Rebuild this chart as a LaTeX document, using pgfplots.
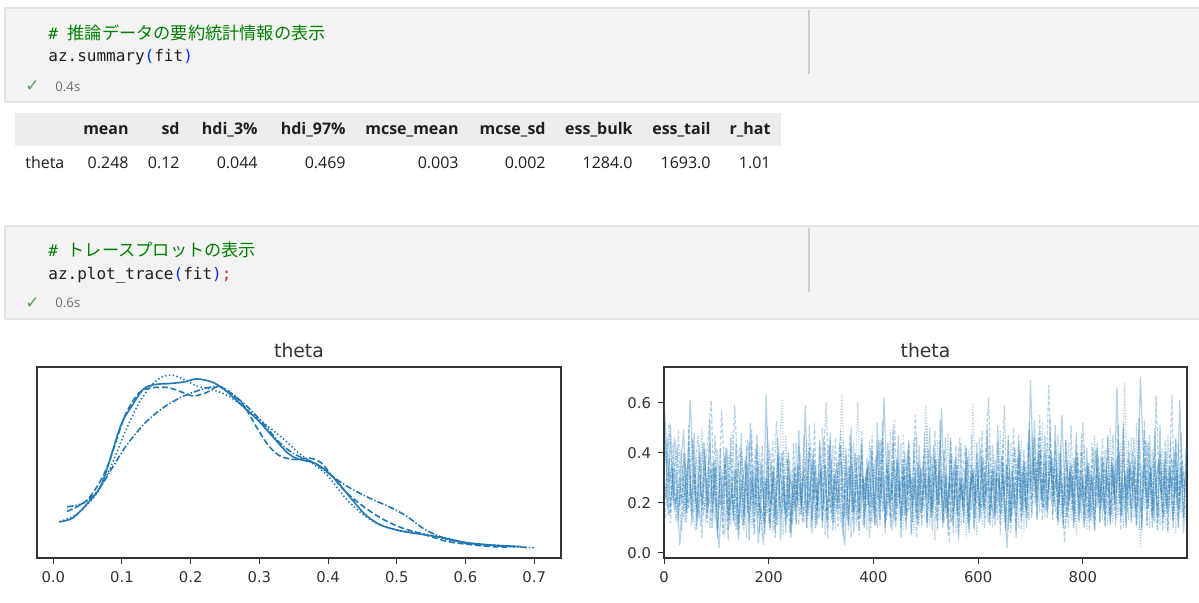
\documentclass[border=0pt]{standalone}
\usepackage{fontspec}
\usepackage{pgfplots}
\usepackage{pgfplotstable}
\pgfplotsset{compat=1.18}
\setmainfont{Open Sans}
\newfontfamily\codefont{DejaVu Sans Mono}
\newfontfamily\cjk{Noto Sans CJK JP}
\newfontfamily\plotfont{DejaVu Sans}
\definecolor{C0}{HTML}{1F77B4}
\definecolor{cellbg}{HTML}{F3F3F3}
\definecolor{cellborder}{HTML}{E2E2E2}
\definecolor{cmtgreen}{HTML}{008000}
\definecolor{codefg}{HTML}{1F1F1F}
\definecolor{brblue}{HTML}{0431FA}
\definecolor{semired}{HTML}{CD3131}
\definecolor{timegray}{HTML}{6E6E6E}
\definecolor{checkgreen}{HTML}{5A9E5A}
\definecolor{hdrbg}{HTML}{EDEDED}
\definecolor{tabfg}{HTML}{1F1F1F}
\definecolor{axgray}{HTML}{333333}

% density estimates, one table per chain
\pgfplotstableread{
x y
0.009 0.54
0.028 0.61
0.050 0.90
0.071 1.29
0.098 2.39
0.114 2.77
0.131 3.10
0.147 3.19
0.168 3.21
0.190 3.24
0.209 3.30
0.233 3.23
0.255 3.03
0.276 2.77
0.298 2.50
0.319 2.19
0.341 1.87
0.357 1.75
0.379 1.68
0.395 1.55
0.411 1.35
0.433 1.00
0.454 0.68
0.476 0.48
0.503 0.37
0.530 0.31
0.568 0.23
0.600 0.14
0.638 0.09
0.681 0.06
}\kdeA
\pgfplotstableread{
x y
0.020 0.74
0.050 0.97
0.077 1.55
0.104 2.58
0.125 3.03
0.144 3.13
0.168 3.13
0.190 3.03
0.203 2.97
0.222 3.03
0.239 3.15
0.255 3.06
0.276 2.81
0.298 2.32
0.314 2.00
0.330 1.81
0.352 1.74
0.373 1.77
0.390 1.68
0.406 1.42
0.427 1.10
0.454 0.81
0.481 0.58
0.508 0.42
0.541 0.29
0.573 0.16
0.606 0.10
0.638 0.06
0.665 0.05
}\kdeB
\pgfplotstableread{
x y
0.009 0.54
0.033 0.68
0.060 1.03
0.082 1.55
0.104 2.26
0.125 2.84
0.144 3.19
0.160 3.35
0.174 3.37
0.190 3.29
0.209 3.16
0.230 3.10
0.255 2.97
0.282 2.71
0.309 2.42
0.336 2.13
0.357 1.87
0.379 1.65
0.400 1.42
0.427 0.97
0.454 0.65
0.481 0.45
0.514 0.35
0.546 0.29
0.579 0.18
0.611 0.12
0.649 0.08
0.676 0.06
}\kdeC
\pgfplotstableread{
x y
0.020 0.83
0.044 0.90
0.066 1.16
0.087 1.61
0.109 2.06
0.136 2.48
0.163 2.77
0.190 2.97
0.217 3.10
0.239 3.16
0.255 3.06
0.282 2.77
0.309 2.39
0.330 2.06
0.352 1.84
0.379 1.68
0.400 1.48
0.427 1.23
0.460 1.00
0.492 0.81
0.514 0.65
0.541 0.39
0.568 0.23
0.600 0.13
0.638 0.08
0.700 0.04
}\kdeD

% trace values (draws 0,5,10,...), one column per chain
\pgfplotstableread{
a b c d
0.62 0.31 0.18 0.44
0.41 0.22 0.27 0.35
0.29 0.15 0.38 0.52
0.35 0.27 0.21 0.30
0.18 0.33 0.46 0.24
0.24 0.41 0.30 0.13
0.03 0.28 0.19 0.22
0.14 0.20 0.35 0.31
0.26 0.37 0.12 0.40
0.33 0.16 0.25 0.19
0.61 0.24 0.31 0.27
0.38 0.45 0.17 0.12
0.22 0.30 0.09 0.34
0.15 0.19 0.28 0.47
0.27 0.12 0.40 0.29
0.44 0.25 0.23 0.16
0.31 0.36 0.14 0.21
0.19 0.48 0.26 0.38
0.25 0.61 0.33 0.10
0.36 0.29 0.20 0.26
0.12 0.18 0.42 0.33
0.02 0.23 0.29 0.18
0.21 0.57 0.16 0.24
0.30 0.34 0.08 0.39
0.42 0.21 0.22 0.28
0.17 0.13 0.36 0.15
0.26 0.27 0.48 0.23
0.33 0.59 0.25 0.11
0.09 0.38 0.18 0.30
0.20 0.24 0.31 0.42
0.28 0.11 0.39 0.20
0.37 0.26 0.14 0.27
0.16 0.35 0.24 0.45
0.52 0.18 0.30 0.33
0.23 0.29 0.11 0.19
0.31 0.42 0.21 0.26
0.04 0.22 0.35 0.14
0.18 0.15 0.27 0.36
0.13 0.03 0.20 0.22
0.63 0.30 0.16 0.29
0.27 0.21 0.44 0.12
0.19 0.36 0.28 0.24
0.34 0.14 0.09 0.31
0.11 0.25 0.23 0.53
0.25 0.40 0.32 0.20
0.40 0.27 0.61 0.16
0.22 0.17 0.26 0.27
0.14 0.31 0.19 0.38
0.30 0.08 0.37 0.25
0.26 0.23 0.15 0.11
0.17 0.35 0.28 0.32
0.35 0.19 0.21 0.22
0.21 0.28 0.40 0.15
0.29 0.12 0.13 0.29
0.59 0.26 0.25 0.36
0.15 0.33 0.31 0.18
0.24 0.44 0.10 0.27
0.38 0.20 0.24 0.41
0.10 0.27 0.35 0.13
0.27 0.15 0.19 0.25
0.32 0.22 0.29 0.34
0.20 0.39 0.46 0.21
0.26 0.60 0.17 0.14
0.43 0.25 0.23 0.28
0.16 0.13 0.33 0.37
0.28 0.31 0.12 0.19
0.35 0.18 0.27 0.25
0.22 0.26 0.38 0.44
0.12 0.34 0.63 0.30
0.03 0.21 0.24 0.16
0.24 0.29 0.14 0.23
0.31 0.47 0.20 0.35
0.18 0.16 0.32 0.12
0.40 0.24 0.26 0.27
0.27 0.13 0.60 0.39
0.14 0.35 0.21 0.22
0.30 0.22 0.11 0.31
0.21 0.30 0.28 0.17
0.36 0.19 0.35 0.26
0.25 0.42 0.18 0.10
0.17 0.27 0.24 0.33
0.29 0.11 0.39 0.28
0.45 0.33 0.16 0.21
0.22 0.24 0.30 0.45
0.62 0.18 0.22 0.26
0.34 0.36 0.13 0.15
0.19 0.25 0.41 0.32
0.27 0.09 0.27 0.24
0.13 0.53 0.20 0.37
0.38 0.28 0.34 0.18
0.24 0.20 0.26 0.29
0.30 0.37 0.15 0.14
0.15 0.23 0.31 0.40
0.41 0.15 0.23 0.23
0.26 0.31 0.38 0.31
0.20 0.26 0.12 0.19
0.33 0.55 0.28 0.27
0.11 0.22 0.19 0.36
0.28 0.34 0.33 0.15
0.36 0.18 0.24 0.24
0.22 0.29 0.59 0.30
0.31 0.41 0.27 0.20
0.17 0.14 0.14 0.39
0.43 0.27 0.30 0.26
0.25 0.35 0.21 0.13
0.19 0.21 0.36 0.32
0.58 0.30 0.24 0.22
0.27 0.12 0.17 0.41
0.14 0.25 0.31 0.18
0.30 0.04 0.22 0.28
0.23 0.33 0.40 0.12
0.37 0.20 0.26 0.25
0.16 0.28 0.15 0.35
0.28 0.46 0.32 0.21
0.21 0.17 0.20 0.29
0.34 0.26 0.28 0.43
0.12 0.38 0.37 0.16
0.26 0.22 0.13 0.27
0.32 0.31 0.60 0.33
0.19 0.14 0.25 0.22
0.29 0.27 0.31 0.30
0.42 0.35 0.18 0.14
0.17 0.19 0.24 0.38
0.25 0.43 0.35 0.24
0.35 0.62 0.12 0.28
0.22 0.24 0.27 0.17
0.14 0.30 0.39 0.34
0.31 0.16 0.21 0.25
0.26 0.28 0.30 0.20
0.39 0.21 0.16 0.31
0.20 0.59 0.26 0.23
0.02 0.25 0.33 0.36
0.24 0.33 0.14 0.12
0.33 0.15 0.28 0.28
0.18 0.26 0.42 0.42
0.27 0.38 0.23 0.19
0.41 0.22 0.31 0.27
0.15 0.31 0.19 0.33
0.30 0.18 0.36 0.21
0.23 0.44 0.25 0.15
0.69 0.27 0.30 0.30
0.35 0.34 0.45 0.37
0.26 0.20 0.22 0.24
0.40 0.29 0.34 0.46
0.21 0.41 0.27 0.28
0.32 0.24 0.18 0.17
0.17 0.33 0.37 0.33
0.28 0.67 0.29 0.25
0.36 0.30 0.21 0.40
0.24 0.19 0.33 0.22
0.31 0.36 0.26 0.14
0.19 0.22 0.40 0.31
0.55 0.28 0.15 0.26
0.27 0.04 0.28 0.19
0.14 0.25 0.35 0.35
0.33 0.32 0.21 0.23
0.22 0.17 0.31 0.29
0.38 0.29 0.12 0.16
0.25 0.40 0.26 0.38
0.16 0.23 0.33 0.21
0.30 0.52 0.19 0.27
0.21 0.26 0.29 0.13
0.35 0.14 0.36 0.34
0.13 0.33 0.23 0.25
0.27 0.21 0.15 0.42
0.41 0.30 0.31 0.18
0.20 0.37 0.25 0.29
0.29 0.18 0.39 0.22
0.17 0.27 0.17 0.36
0.33 0.35 0.28 0.26
0.24 0.23 0.22 0.15
0.38 0.15 0.34 0.31
0.19 0.31 0.26 0.24
0.66 0.26 0.13 0.38
0.28 0.40 0.30 0.20
0.15 0.21 0.24 0.28
0.32 0.29 0.68 0.17
0.22 0.16 0.27 0.33
0.36 0.34 0.19 0.25
0.25 0.25 0.32 0.41
0.18 0.38 0.23 0.22
0.31 0.19 0.36 0.30
0.70 0.27 0.02 0.16
0.42 0.33 0.25 0.27
0.26 0.22 0.31 0.45
0.20 0.44 0.18 0.23
0.34 0.28 0.29 0.34
0.13 0.17 0.37 0.19
0.29 0.63 0.24 0.28
0.37 0.30 0.14 0.36
0.22 0.24 0.33 0.21
0.30 0.36 0.26 0.14
0.17 0.19 0.41 0.31
0.35 0.28 0.20 0.26
0.26 0.63 0.29 0.38
0.41 0.23 0.16 0.22
0.19 0.33 0.35 0.29
0.61 0.21 0.24 0.17
0.28 0.37 0.30 0.33
0.24 0.26 0.22 0.27
}\trace

% trace values in between (draws 2.5, 7.5, ...), one column per chain
\pgfplotstableread{
a b c d
0.45 0.14 0.52 0.22
0.18 0.35 0.15 0.46
0.51 0.12 0.31 0.16
0.21 0.44 0.19 0.34
0.33 0.19 0.45 0.13
0.13 0.29 0.20 0.49
0.36 0.09 0.41 0.19
0.49 0.40 0.14 0.31
0.16 0.17 0.34 0.12
0.38 0.51 0.18 0.44
0.15 0.11 0.46 0.21
0.48 0.32 0.16 0.35
0.11 0.18 0.37 0.09
0.31 0.43 0.15 0.39
0.19 0.06 0.50 0.17
0.41 0.34 0.17 0.44
0.16 0.12 0.30 0.14
0.53 0.44 0.10 0.33
0.10 0.20 0.36 0.16
0.34 0.37 0.13 0.47
0.06 0.10 0.41 0.09
0.35 0.31 0.19 0.42
0.17 0.07 0.33 0.13
0.42 0.36 0.08 0.30
0.09 0.15 0.39 0.05
0.30 0.46 0.11 0.40
0.13 0.12 0.27 0.16
0.44 0.33 0.09 0.34
0.07 0.05 0.37 0.12
0.29 0.42 0.14 0.48
0.11 0.15 0.31 0.09
0.43 0.28 0.06 0.36
0.05 0.12 0.44 0.14
0.33 0.49 0.10 0.29
0.18 0.07 0.35 0.08
0.47 0.34 0.13 0.43
0.08 0.16 0.42 0.17
0.31 0.43 0.05 0.35
0.12 0.09 0.29 0.07
0.38 0.30 0.16 0.50
0.09 0.10 0.41 0.12
0.32 0.45 0.08 0.33
0.15 0.06 0.30 0.08
0.46 0.37 0.11 0.39
0.05 0.14 0.36 0.18
0.29 0.41 0.07 0.31
0.11 0.08 0.47 0.13
0.40 0.27 0.17 0.40
0.07 0.11 0.33 0.06
0.34 0.44 0.13 0.28
0.12 0.18 0.44 0.11
0.49 0.35 0.11 0.43
0.16 0.15 0.32 0.19
0.31 0.47 0.12 0.34
0.14 0.10 0.45 0.10
0.42 0.29 0.21 0.51
0.08 0.13 0.36 0.13
0.37 0.52 0.10 0.32
0.19 0.11 0.30 0.17
0.44 0.33 0.14 0.45
0.10 0.12 0.50 0.13
0.35 0.44 0.07 0.36
0.13 0.06 0.33 0.09
0.48 0.31 0.18 0.45
0.09 0.19 0.43 0.12
0.32 0.46 0.09 0.30
0.17 0.10 0.37 0.20
0.43 0.28 0.12 0.49
0.07 0.13 0.45 0.10
0.39 0.42 0.15 0.33
0.12 0.09 0.34 0.11
0.50 0.36 0.06 0.43
0.08 0.17 0.44 0.16
0.31 0.38 0.11 0.29
0.16 0.07 0.39 0.09
0.43 0.49 0.19 0.45
0.10 0.11 0.30 0.14
0.34 0.33 0.09 0.38
0.18 0.13 0.45 0.06
0.41 0.47 0.12 0.32
0.11 0.12 0.37 0.14
0.52 0.30 0.10 0.41
0.13 0.19 0.46 0.11
0.33 0.46 0.16 0.53
0.10 0.08 0.31 0.12
0.44 0.35 0.15 0.34
0.20 0.14 0.49 0.10
0.36 0.50 0.11 0.44
0.12 0.10 0.33 0.19
0.47 0.29 0.14 0.36
0.06 0.13 0.44 0.10
0.34 0.37 0.09 0.47
0.15 0.09 0.36 0.12
0.45 0.44 0.17 0.31
0.08 0.18 0.30 0.07
0.30 0.40 0.08 0.45
0.13 0.06 0.47 0.16
0.43 0.31 0.11 0.35
0.17 0.12 0.34 0.11
0.32 0.48 0.14 0.42
0.12 0.10 0.51 0.12
0.50 0.34 0.11 0.30
0.09 0.16 0.36 0.18
0.37 0.39 0.05 0.49
0.19 0.09 0.45 0.10
0.45 0.53 0.13 0.33
0.10 0.12 0.31 0.13
0.33 0.30 0.18 0.46
0.15 0.11 0.48 0.07
0.46 0.45 0.12 0.37
0.08 0.16 0.34 0.11
0.38 0.33 0.08 0.43
0.05 0.07 0.42 0.15
0.30 0.44 0.11 0.29
0.16 0.12 0.28 0.12
0.42 0.31 0.06 0.42
0.12 0.09 0.41 0.08
0.35 0.47 0.17 0.32
0.09 0.14 0.33 0.10
0.44 0.36 0.07 0.40
0.13 0.12 0.46 0.18
0.38 0.49 0.11 0.35
0.18 0.14 0.32 0.10
0.47 0.29 0.14 0.50
0.14 0.11 0.43 0.12
0.33 0.43 0.10 0.34
0.11 0.16 0.37 0.15
0.51 0.35 0.13 0.44
0.15 0.07 0.49 0.11
0.36 0.45 0.12 0.31
0.09 0.12 0.35 0.10
0.45 0.32 0.09 0.47
0.12 0.08 0.44 0.13
0.30 0.50 0.18 0.33
0.06 0.13 0.31 0.09
0.47 0.38 0.10 0.44
0.13 0.09 0.45 0.17
0.37 0.41 0.08 0.36
0.10 0.17 0.33 0.14
0.49 0.34 0.13 0.52
0.21 0.14 0.48 0.16
0.53 0.46 0.19 0.38
0.13 0.20 0.37 0.14
0.41 0.55 0.16 0.49
0.18 0.13 0.52 0.22
0.47 0.36 0.14 0.40
0.14 0.16 0.44 0.18
0.39 0.48 0.21 0.54
0.22 0.15 0.38 0.13
0.51 0.41 0.18 0.45
0.12 0.11 0.47 0.13
0.39 0.43 0.12 0.33
0.10 0.18 0.32 0.11
0.45 0.30 0.10 0.45
0.17 0.10 0.44 0.19
0.35 0.51 0.13 0.36
0.11 0.13 0.38 0.10
0.48 0.36 0.07 0.43
0.13 0.12 0.29 0.16
0.33 0.41 0.14 0.48
0.10 0.15 0.43 0.11
0.42 0.31 0.09 0.35
0.16 0.09 0.36 0.13
0.31 0.44 0.12 0.30
0.09 0.11 0.47 0.09
0.44 0.34 0.18 0.42
0.12 0.17 0.32 0.12
0.38 0.46 0.13 0.37
0.11 0.10 0.41 0.15
0.47 0.30 0.11 0.46
0.12 0.11 0.50 0.14
0.36 0.47 0.12 0.34
0.19 0.14 0.36 0.11
0.45 0.39 0.15 0.51
0.15 0.09 0.44 0.13
0.52 0.50 0.10 0.38
0.11 0.10 0.33 0.20
0.40 0.33 0.13 0.45
0.13 0.18 0.46 0.12
0.34 0.46 0.14 0.35
0.11 0.12 0.52 0.10
0.54 0.36 0.09 0.45
0.09 0.10 0.35 0.13
0.37 0.49 0.17 0.53
0.18 0.11 0.46 0.11
0.47 0.32 0.10 0.36
0.10 0.15 0.41 0.14
0.36 0.50 0.12 0.47
0.13 0.09 0.30 0.09
0.51 0.40 0.11 0.39
0.09 0.12 0.42 0.16
0.40 0.33 0.10 0.45
0.16 0.08 0.47 0.09
0.33 0.45 0.13 0.31
0.10 0.13 0.36 0.13
0.45 0.31 0.08 0.46
0.13 0.10 0.44 0.10
0.36 0.48 0.16 0.34
0.08 0.14 0.33 0.14
0.43 0.35 0.10 0.42
}\traceB

\pgfplotsset{
  nbstyle/.style={
    scale only axis,
    axis line style={axgray, line width=0.6pt},
    tick style={axgray, line width=0.5pt},
    major tick length=3pt,
    tick align=outside,
    tick pos=left,
    tick label style={font=\plotfont\fontsize{7.4}{9}\selectfont, text=axgray},
    /pgf/number format/assume math mode=true,
    /pgf/number format/.cd, fixed, fixed zerofill, precision=1, /pgfplots/.cd,
    title style={at={(0.5,1)}, anchor=base, yshift=-1.3pt, inner sep=0pt,
      font=\plotfont\fontsize{9.4}{11}\selectfont, text=axgray},
    clip=true,
  },
  tr/.style={C0, opacity=0.33, line width=0.6pt},
}

\begin{document}
\begin{tikzpicture}
\begin{scope}[x=0.5pt,y=-0.5pt]
\useasboundingbox (0,0) rectangle (1199,603);
\fill[white] (0,0) rectangle (1199,603);
% ---------- cell 1 ----------
\fill[cellbg] (5,8) rectangle (1199,102);
\draw[cellborder, line width=0.6pt] (5,8) -- (1199,8);
\draw[cellborder, line width=0.6pt] (5,102) -- (1199,102);
\draw[cellborder, line width=0.6pt] (5,8) -- (5,102);
\draw[black!20, line width=0.7pt] (809,10) -- (809,74);
\node[anchor=base west, inner sep=0pt, font=\fontsize{8}{10}\selectfont, text=cmtgreen] at (48,39.5) {\codefont\#\ \cjk\fontsize{8.6}{10}\selectfont 推論データの要約統計情報の表示};
\node[anchor=base west, inner sep=0pt, font=\fontsize{8}{10}\selectfont, text=codefg] at (48,62) {\codefont az.summary\textcolor{brblue}{(}fit\textcolor{brblue}{)}};
\node[anchor=base west, inner sep=0pt, font=\plotfont\fontsize{8.5}{9}\selectfont, text=checkgreen] at (25,92) {✓};
\node[anchor=base west, inner sep=0pt, font=\fontsize{6.6}{8}\selectfont, text=timegray] at (55,91.5) {0.4s};
% ---------- table ----------
\fill[hdrbg] (15,113) rectangle (781,146);
\begin{scope}[every node/.style={anchor=base east, inner sep=0pt, text=tabfg}]
\foreach \xx/\lab in {129/mean, 180/sd, 258/hdi\_3\%, 346/hdi\_97\%, 459/mcse\_mean, 546/mcse\_sd, 633/ess\_bulk, 711/ess\_tail, 771/r\_hat}
  \node[font=\bfseries\fontsize{8}{10}\selectfont] at (\xx,134.5) {\lab};
\foreach \xx/\lab in {129/0.248, 180/0.12, 258/0.044, 346/0.469, 459/0.003, 546/0.002, 633/1284.0, 711/1693.0, 771/1.01}
  \node[font=\fontsize{8}{10}\selectfont] at (\xx,168.5) {\lab};
\end{scope}
\node[anchor=base west, inner sep=0pt, text=tabfg, font=\fontsize{8}{10}\selectfont] at (25,168.5) {theta};
% ---------- cell 2 ----------
\fill[cellbg] (5,226) rectangle (1199,319);
\draw[cellborder, line width=0.6pt] (5,226) -- (1199,226);
\draw[cellborder, line width=0.6pt] (5,319) -- (1199,319);
\draw[cellborder, line width=0.6pt] (5,226) -- (5,319);
\draw[black!20, line width=0.7pt] (809,228) -- (809,292);
\node[anchor=base west, inner sep=0pt, font=\fontsize{8}{10}\selectfont, text=cmtgreen] at (48,256.5) {\codefont\#\ \cjk\fontsize{8.6}{10}\selectfont トレースプロットの表示};
\node[anchor=base west, inner sep=0pt, font=\fontsize{8}{10}\selectfont, text=codefg] at (48,280) {\codefont az.plot\_trace\textcolor{brblue}{(}fit\textcolor{brblue}{)}\textcolor{semired}{;}};
\node[anchor=base west, inner sep=0pt, font=\plotfont\fontsize{8.5}{9}\selectfont, text=checkgreen] at (25,308.5) {✓};
\node[anchor=base west, inner sep=0pt, font=\fontsize{6.6}{8}\selectfont, text=timegray] at (55,308) {0.6s};
\end{scope}

% ---------- left: posterior densities ----------
\begin{axis}[nbstyle,
  at={(18.5pt,-279pt)}, anchor=south west,
  width=262pt, height=95.5pt,
  xmin=-0.0237, xmax=0.739, ymin=-0.16, ymax=3.53,
  xtick={0,0.1,0.2,0.3,0.4,0.5,0.6,0.7}, ytick=\empty,
  title={theta},
]
\addplot[C0, line width=0.8pt, smooth, tension=0.5] table[x=x,y=y] {\kdeA};
\addplot[C0, line width=0.8pt, smooth, tension=0.5, dash pattern=on 3pt off 1.4pt] table[x=x,y=y] {\kdeB};
\addplot[C0, line width=0.8pt, smooth, tension=0.5, dash pattern=on 0.7pt off 1.2pt] table[x=x,y=y] {\kdeC};
\addplot[C0, line width=0.8pt, smooth, tension=0.5, dash pattern=on 3.2pt off 1pt on 0.7pt off 1pt] table[x=x,y=y] {\kdeD};
\end{axis}

% ---------- right: trace ----------
\begin{axis}[nbstyle,
  at={(332pt,-279pt)}, anchor=south west,
  width=261.5pt, height=95.5pt,
  xmin=0, xmax=999, ymin=-0.021, ymax=0.743,
  xtick={0,200,400,600,800}, ytick={0,0.2,0.4,0.6},
  xticklabel style={/pgf/number format/.cd, fixed, precision=0},
  title={theta},
]
\addplot[tr] table[x expr=\coordindex*5, y=a] {\trace};
\addplot[tr, dash pattern=on 2pt off 1pt] table[x expr=\coordindex*5, y=b] {\trace};
\addplot[tr, dash pattern=on 0.6pt off 0.8pt] table[x expr=\coordindex*5, y=c] {\trace};
\addplot[tr, dash pattern=on 2pt off 0.8pt on 0.6pt off 0.8pt] table[x expr=\coordindex*5, y=d] {\trace};
\addplot[tr] table[x expr=\coordindex*5+2.5, y=a] {\traceB};
\addplot[tr, dash pattern=on 2pt off 1pt] table[x expr=\coordindex*5+2.5, y=b] {\traceB};
\addplot[tr, dash pattern=on 0.6pt off 0.8pt] table[x expr=\coordindex*5+2.5, y=c] {\traceB};
\addplot[tr, dash pattern=on 2pt off 0.8pt on 0.6pt off 0.8pt] table[x expr=\coordindex*5+2.5, y=d] {\traceB};
\end{axis}
\end{tikzpicture}
\end{document}
